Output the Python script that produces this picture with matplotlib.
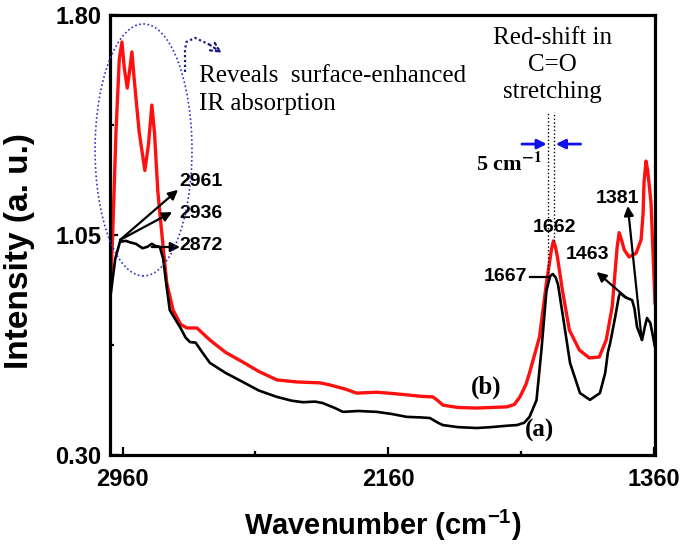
import numpy as np
import matplotlib.pyplot as plt
from matplotlib.patches import Ellipse

# wavenumber (cm-1) / intensity
wn_a = [2998, 2990, 2982, 2968, 2950, 2938, 2920, 2900, 2885, 2872, 2860, 2848, 2838,
        2828, 2818, 2800, 2787, 2770, 2757, 2740, 2720, 2697, 2650, 2598, 2550, 2495,
        2450, 2417, 2380, 2357, 2320, 2296, 2250, 2194, 2150, 2104, 2060, 2034, 2010,
        1995, 1950, 1893, 1850, 1800, 1772, 1750, 1734, 1713, 1698, 1683, 1672, 1664,
        1655, 1648, 1633, 1612, 1582, 1552, 1522, 1506, 1498, 1491, 1476, 1465, 1461,
        1446, 1425, 1418, 1410, 1395, 1386, 1380, 1370, 1356]
int_a = [0.828, 0.90, 0.97, 1.027, 1.03, 1.025, 1.02, 1.005, 1.01, 1.02, 1.012, 1.01, 0.97,
         0.88, 0.794, 0.76, 0.736, 0.70, 0.685, 0.683, 0.65, 0.614, 0.58, 0.549, 0.52, 0.498,
         0.485, 0.48, 0.482, 0.477, 0.46, 0.447, 0.45, 0.447, 0.44, 0.43, 0.428, 0.426, 0.41,
         0.402, 0.395, 0.392, 0.395, 0.40, 0.402, 0.41, 0.43, 0.487, 0.66, 0.86, 0.91, 0.917,
         0.905, 0.88, 0.77, 0.614, 0.511, 0.488, 0.511, 0.58, 0.65, 0.682, 0.77, 0.84, 0.852,
         0.838, 0.828, 0.80, 0.736, 0.692, 0.74, 0.767, 0.75, 0.668]

wn_b = [2998, 2990, 2980, 2970, 2962, 2955, 2946, 2940, 2932, 2925, 2910, 2893, 2882,
        2872, 2864, 2854, 2842, 2827, 2808, 2785, 2766, 2736, 2697, 2650, 2598, 2550,
        2495, 2435, 2366, 2336, 2290, 2255, 2194, 2150, 2104, 2060, 2025, 2010, 1995,
        1950, 1893, 1850, 1803, 1780, 1763, 1745, 1734, 1704, 1683, 1668, 1662, 1656,
        1650, 1635, 1614, 1584, 1554, 1524, 1503, 1485, 1470, 1464, 1456, 1449, 1434,
        1413, 1398, 1392, 1389, 1383, 1378, 1368, 1356]
int_b = [0.83, 1.05, 1.40, 1.65, 1.708, 1.62, 1.551, 1.60, 1.674, 1.58, 1.40, 1.27, 1.36,
         1.493, 1.40, 1.20, 1.057, 0.886, 0.794, 0.745, 0.733, 0.733, 0.692, 0.65, 0.617, 0.585,
         0.556, 0.549, 0.546, 0.539, 0.525, 0.511, 0.514, 0.51, 0.505, 0.50, 0.498, 0.485, 0.47,
         0.462, 0.46, 0.462, 0.464, 0.472, 0.498, 0.54, 0.58, 0.702, 0.887, 1.0, 1.03, 1.01,
         0.975, 0.862, 0.726, 0.658, 0.631, 0.634, 0.692, 0.805, 1.009, 1.058, 1.03, 1.0, 0.975,
         0.988, 1.033, 1.12, 1.23, 1.302, 1.27, 1.16, 0.818]

xticks = [2960, 2160, 1360]
yticks = [0.30, 1.05, 1.80]

sans = ['Liberation Sans', 'DejaVu Sans']
serif = ['Liberation Serif', 'DejaVu Serif']
plt.rcParams['font.family'] = sans
plt.rcParams['mathtext.fontset'] = 'custom'
plt.rcParams['mathtext.rm'] = 'Liberation Sans:bold'
plt.rcParams['mathtext.bf'] = 'Liberation Sans:bold'

fig = plt.figure(figsize=(6.85, 5.44), dpi=100)
ax = fig.add_axes([110/685, 1-455/544, 545/685, 440/544])

ax.plot(wn_a, int_a, color='black', lw=1.9, zorder=3)
ax.plot(wn_b, int_b, color='#ff1010', lw=2.4, zorder=2)

ax.set_xlim(2998, 1356)
ax.set_ylim(0.30, 1.80)
ax.set_xticks(xticks)
ax.set_xticklabels([str(t) for t in xticks])
ax.set_xticks([2560, 1760], minor=True)
ax.set_yticks(yticks)
ax.set_yticklabels(['%.2f' % t for t in yticks])
ax.set_yticks([0.675, 1.425], minor=True)
ax.tick_params(which='both', direction='in', width=1.6, top=False, right=False)
ax.tick_params(which='major', length=6, labelsize=17)
ax.tick_params(which='minor', length=3)
ax.tick_params(axis='x', pad=9)
ax.tick_params(axis='y', pad=6)
for lab in ax.get_xticklabels() + ax.get_yticklabels():
    lab.set_fontweight('bold')
for s in ax.spines.values():
    s.set_linewidth(2.3)

ax.set_xlabel('Wavenumber (cm$^{\\mathbf{-1}}$)', fontsize=21, fontweight='bold')
ax.set_ylabel('Intensity (a. u.)', fontsize=24, fontweight='bold')
ax.xaxis.set_label_coords(0.5, -0.12)
ax.yaxis.set_label_coords(-0.138, 0.464)

# dotted ellipse around the C-H region
ell = Ellipse((2897, 1.34), 292, 0.859, fill=False, ls=(0, (1, 1.5)), lw=1.2,
              edgecolor='#3030c8', clip_on=False, zorder=4)
ax.add_patch(ell)
ax.plot([2772, 2772, 2768, 2742, 2700], [1.606, 1.68, 1.708, 1.722, 1.70],
        ls=(0, (1, 1.2)), color='#1a1a80', lw=1.6)
ax.annotate('', xy=(2661, 1.671), xytext=(2700, 1.70),
            arrowprops=dict(arrowstyle='->', color='#1a1a80', lw=1.6, ls=':',
                            mutation_scale=16, shrinkA=0, shrinkB=0))
ax.text(2730, 1.544, 'Reveals  surface-enhanced\nIR absorption', family=serif,
        fontsize=18, ha='left', va='center', linespacing=1.32)

ax.text(1666, 1.63, 'Red-shift in\nC=O\nstretching', family=serif, fontsize=18,
        ha='center', va='center', linespacing=1.3, multialignment='center')

# dotted guide lines and blue arrows
ax.plot([1678, 1678], [0.92, 1.47], ls=':', color='black', lw=1.0)
ax.plot([1660, 1660], [1.03, 1.47], ls=':', color='black', lw=1.0)
ax.annotate('', xy=(1682, 1.36), xytext=(1757, 1.36),
            arrowprops=dict(arrowstyle='-|>', color='#1010ee', lw=2, mutation_scale=14,
                            shrinkA=0, shrinkB=0))
ax.annotate('', xy=(1655, 1.36), xytext=(1580, 1.36),
            arrowprops=dict(arrowstyle='-|>', color='#1010ee', lw=2, mutation_scale=14,
                            shrinkA=0, shrinkB=0))
ax.text(1896, 1.289, r'5 cm$^{\mathbf{-1}}$', family=serif, fontsize=16, fontweight='bold',
        ha='left', va='center', math_fontfamily='stix')

# peak labels
arrow = dict(arrowstyle='-|>', color='black', lw=1.6, mutation_scale=14, shrinkA=0, shrinkB=0)
lab = dict(fontsize=14, fontweight='bold', va='center')
ax.annotate('', xy=(2793, 1.204), xytext=(2968, 1.033), arrowprops=arrow)
ax.annotate('', xy=(2811, 1.128), xytext=(2968, 1.033), arrowprops=arrow)
ax.annotate('', xy=(2787, 1.009), xytext=(2872, 1.009), arrowprops=arrow)
ax.text(2790, 1.231, '2961', ha='left', **lab)
ax.text(2790, 1.125, '2936', ha='left', **lab)
ax.text(2790, 1.013, '2872', ha='left', **lab)

ax.text(1658, 1.074, '1662', ha='center', **lab)
ax.text(1742, 0.907, '1667', ha='right', **lab)
ax.plot([1733, 1675], [0.907, 0.907], color='black', lw=1.6)
ax.text(1558, 0.982, '1463', ha='center', **lab)
ax.annotate('', xy=(1532, 0.924), xytext=(1441, 0.835), arrowprops=arrow)
ax.text(1468, 1.176, '1381', ha='center', **lab)
ax.annotate('', xy=(1438, 1.149), xytext=(1396, 0.692), arrowprops=arrow)

ax.text(1866, 0.532, '(b)', family=serif, fontsize=18, fontweight='bold', ha='center', va='center')
ax.text(1703, 0.385, '(a)', family=serif, fontsize=18, fontweight='bold', ha='center', va='center')

fig.savefig('out.png', dpi=100)
